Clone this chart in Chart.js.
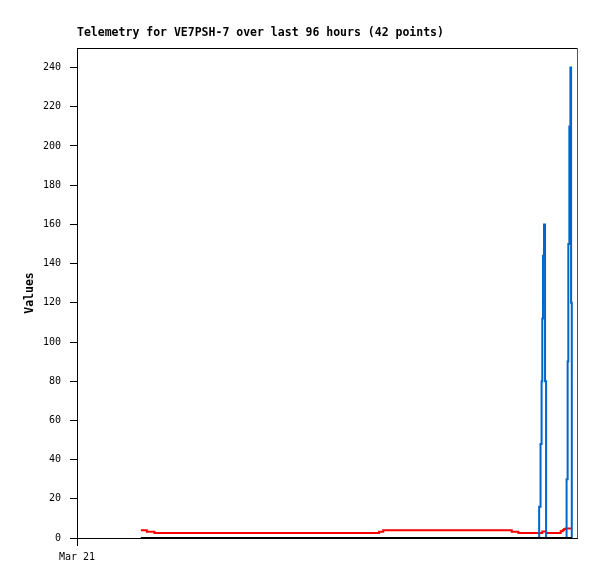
<!DOCTYPE html>
<html>
<head>
<meta charset="utf-8">
<script src="https://cdn.jsdelivr.net/npm/chart.js@4/dist/chart.umd.min.js"></script>
<style>
html,body{margin:0;padding:0;background:#fff;}
#wrap{width:597px;height:579px;position:relative;}
</style>
</head>
<body>
<div id="wrap"><canvas id="c" width="597" height="579"></canvas></div>
<script>
// Minutes after Mar 21 00:00
const times = [184, 201, 223, 300, 380, 460, 540, 620, 700, 780, 870, 882, 940, 1000, 1060, 1120, 1180, 1252, 1271, 1295, 1315,
  1331, 1335, 1338, 1340, 1342, 1345, 1348, 1351, 1365, 1380, 1393, 1399, 1403, 1407,
  1410, 1413, 1415, 1418, 1421, 1423, 1425];
const redValues = [3.9, 3.2, 2.6, 2.6, 2.6, 2.6, 2.6, 2.6, 2.6, 2.6, 3.2, 3.9, 3.9, 3.9, 3.9, 3.9, 3.9, 3.2, 2.6, 2.6, 2.6,
  2.6, 2.6, 2.6, 3.3, 3.3, 3.3, 3.3, 2.6, 2.6, 2.6, 3.4, 4.1, 4.6, 4.9,
  4.9, 4.9, 4.9, 4.9, 4.9, 4.9, 4.9];
const blueValues = [0, 0, 0, 0, 0, 0, 0, 0, 0, 0, 0, 0, 0, 0, 0, 0, 0, 0, 0, 0, 0,
  16, 48, 80, 112, 144, 160, 80, 0, 0, 0, 0, 0, 0, 0,
  30, 90, 150, 210, 240, 120, 0];
const blackValues = [0, 0, 0, 0, 0, 0, 0, 0, 0, 0, 0, 0, 0, 0, 0, 0, 0, 0, 0, 0, 0,
  0, 0, 0, 0, 0, 0, 0, 0, 0, 0, 0, 0, 0, 0,
  0, 0, 0, 0, 0, 0, 0];
const xTickValues = [0];
const xTickLabels = ['Mar 21'];
const yTickValues = [0, 20, 40, 60, 80, 100, 120, 140, 160, 180, 200, 220, 240];
const titleText = 'Telemetry for VE7PSH-7 over last 96 hours (42 points)';
const yAxisTitle = 'Values';

const mono = '"DejaVu Sans Mono", "Liberation Mono", monospace';
Chart.defaults.color = '#000';
Chart.defaults.font.family = mono;

function pts(vals) { return times.map((t, i) => ({x: t, y: vals[i]})); }

const framePlugin = {
  id: 'frame',
  afterDraw(chart) {
    const {ctx, chartArea: a} = chart;
    ctx.save();
    ctx.lineWidth = 1;
    ctx.strokeStyle = '#000';
    ctx.beginPath();
    ctx.moveTo(Math.round(a.left) + 0.5, Math.round(a.top) + 0.5);
    ctx.lineTo(Math.round(a.right) + 0.5, Math.round(a.top) + 0.5);
    ctx.stroke();
    ctx.strokeStyle = '#555';
    ctx.beginPath();
    ctx.moveTo(Math.round(a.right) + 0.5, Math.round(a.top) + 0.5);
    ctx.lineTo(Math.round(a.right) + 0.5, Math.round(a.bottom) + 0.5);
    ctx.stroke();
    ctx.fillStyle = '#000';
    ctx.font = 'bold 11.5px ' + mono;
    ctx.textAlign = 'left';
    ctx.textBaseline = 'alphabetic';
    ctx.fillText(titleText, a.left, 35.5);
    ctx.restore();
  }
};

new Chart(document.getElementById('c'), {
  type: 'line',
  data: {
    datasets: [
      {data: pts(blackValues), borderColor: '#000000', borderWidth: 2, stepped: true, pointRadius: 0, fill: false},
      {data: pts(blueValues), borderColor: '#0066cc', borderWidth: 2, stepped: true, pointRadius: 0, fill: false},
      {data: pts(redValues), borderColor: '#ff0000', borderWidth: 2, stepped: true, pointRadius: 0, fill: false}
    ]
  },
  options: {
    responsive: false,
    animation: false,
    layout: {padding: {left: 0, top: 48, right: 20, bottom: 0}},
    plugins: {legend: {display: false}, tooltip: {enabled: false}, title: {display: false}},
    scales: {
      x: {
        type: 'linear',
        min: 0,
        max: 1440,
        afterBuildTicks(scale) { scale.ticks = xTickValues.map(v => ({value: v})); },
        afterFit(scale) { scale.height = 41; },
        ticks: {
          maxRotation: 0, autoSkip: false, padding: 5,
          font: {size: 10, family: mono}, color: '#000',
          callback(v) { const i = xTickValues.indexOf(v); return i >= 0 ? xTickLabels[i] : ''; }
        },
        grid: {drawOnChartArea: false, drawTicks: true, tickLength: 8, color: '#000'},
        border: {display: true, color: '#000', width: 1}
      },
      y: {
        type: 'linear',
        min: 0,
        max: 250,
        afterBuildTicks(scale) { scale.ticks = yTickValues.map(v => ({value: v})); },
        afterFit(scale) { scale.width = 77; },
        ticks: {padding: 9, font: {size: 10, family: mono}, color: '#000', autoSkip: false},
        grid: {drawOnChartArea: false, drawTicks: true, tickLength: 7, color: '#000'},
        border: {display: true, color: '#000', width: 1},
        title: {display: true, text: yAxisTitle, font: {size: 11.5, weight: 'bold', family: mono}, color: '#000', padding: {top: 23, bottom: 0}}
      }
    }
  },
  plugins: [framePlugin]
});
</script>
</body>
</html>
